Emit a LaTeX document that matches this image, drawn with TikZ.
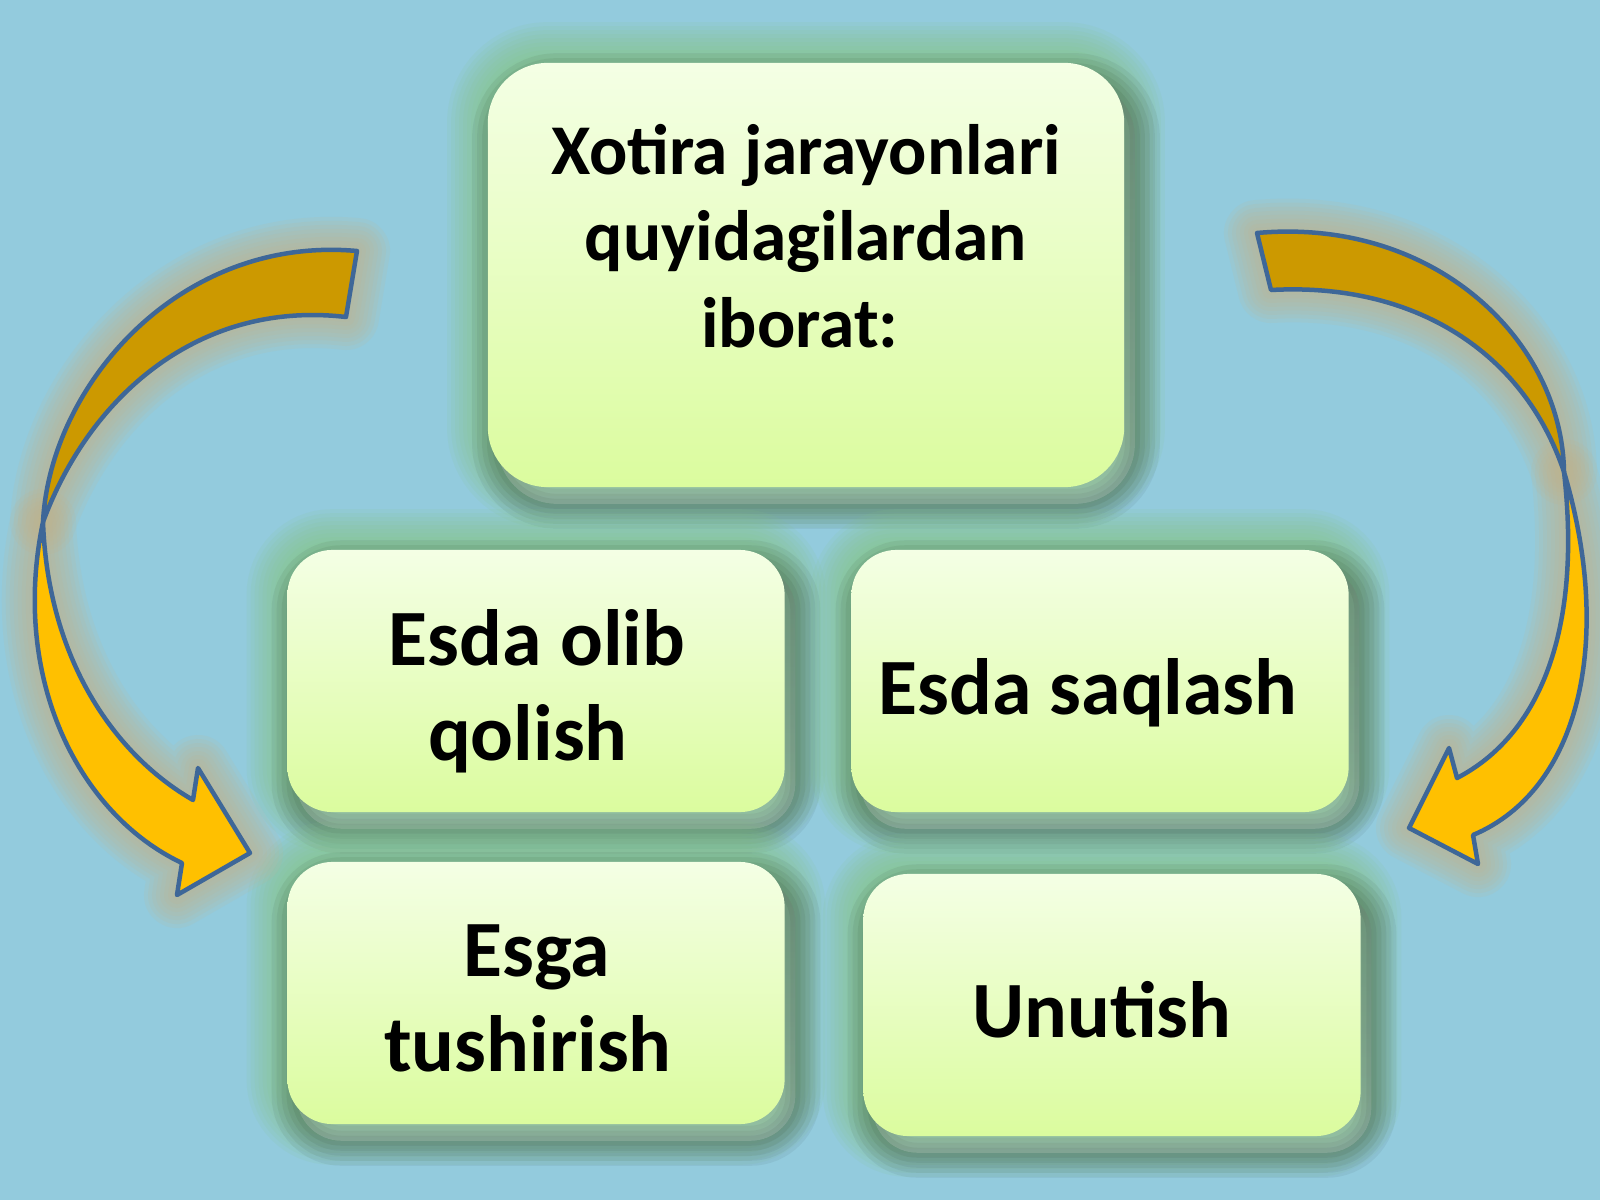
\documentclass[tikz,border=0pt]{standalone}
\usepackage{fontspec}
\setmainfont{Carlito}
\usepackage{xcolor}
\usepackage{tikz}

\pgfdeclarelayer{back}
\pgfdeclarelayer{glow}
\pgfsetlayers{back,glow,main}

\definecolor{sky}{RGB}{147,203,221}
\definecolor{cardtop}{RGB}{244,255,229}
\definecolor{cardbot}{RGB}{219,252,158}
\definecolor{halo}{RGB}{134,198,128}
\definecolor{shade}{RGB}{80,125,95}
\definecolor{goldback}{RGB}{204,153,0}
\definecolor{goldfront}{RGB}{255,192,0}
\definecolor{rim}{RGB}{62,103,152}
\definecolor{amber}{RGB}{196,180,140}

\tikzset{
  card/.style={rounded corners=0.45cm, top color=cardtop, bottom color=cardbot,
    minimum width=4.97cm, minimum height=2.62cm, inner sep=0pt},
  bigcard/.style={card, rounded corners=0.6cm, minimum width=6.36cm, minimum height=4.24cm},
  cardtext/.style={align=center, inner sep=0pt, anchor=base,
    font=\fontsize{22.7}{27}\selectfont\bfseries},
  bigtext/.style={cardtext, font=\fontsize{20.3}{24.5}\selectfont\bfseries},
  band/.style={draw=rim, line width=0.045cm, line join=round},
}

% arrow outlines (pixel units)
\newcommand\leftback{(357,251) .. controls (180,235) and (50,385) .. (43,522)
  .. controls (90,395) and (200,300) .. (346,317) -- cycle}
\newcommand\leftfront{(43,522) .. controls (48,660) and (115,755) .. (193,800)
  -- (198,768) -- (250,853) -- (177,895) -- (182,863)
  .. controls (80,815) and (10,680) .. (43,522) -- cycle}
\newcommand\rightback{(1257,233) .. controls (1434,217) and (1562,340) .. (1564,472)
  .. controls (1524,352) and (1414,282) .. (1271,290) -- cycle}
\newcommand\rightfront{(1564,472) .. controls (1582,630) and (1540,735) .. (1457,778)
  -- (1449,748) -- (1409,828) -- (1478,864) -- (1473,835)
  .. controls (1580,790) and (1614,640) .. (1564,472) -- cycle}

\begin{document}
\begin{tikzpicture}[x=0.01cm, y=-0.01cm]
\useasboundingbox (0,0) rectangle (1600,1200);
\begin{pgfonlayer}{back}
  \fill[sky] (0,0) rectangle (1600,1200);
\end{pgfonlayer}

% BOXES
  \node[bigcard] (xotira) at (806,275) {};
  \node[card] (olib) at (536,681) {};
  \node[card] (saqlash) at (1100,681) {};
  \node[card] (tushirish) at (536,993) {};
  \node[card] (unutish) at (1112,1005) {};

% TEXT (anchored at the last baseline)
  \node[bigtext] (xotiratext) at (806,347) {Xotira jarayonlari\\quyidagilardan\\iborat:\hspace*{3.5pt}};
  \node[cardtext] (olibtext) at (537,760) {Esda olib\\qolish\hspace*{5.2pt}};
  \node[cardtext] (saqlashtext) at (1088,714) {Esda saqlash};
  \node[cardtext] (tushirishtext) at (537,1071) {Esga\\tushirish\hspace*{5.2pt}};
  \node[cardtext] (unutishtext) at (1102,1037) {Unutish};

% GLOW and SHADOW
\begin{pgfonlayer}{glow}
  \foreach \n/\r in {xotira/0.6cm, olib/0.45cm, saqlash/0.45cm, tushirish/0.45cm, unutish/0.45cm}{
    \foreach \w in {80,72,64,56,48,40,32,24,16,8}
      \draw[halo, opacity=.1, line width=\w*0.2845pt, rounded corners=\r]
        (\n.south west) rectangle (\n.north east);
    \foreach \w in {50,40,30,20,10}
      \draw[shade, opacity=.05, line width=\w*0.2845pt, rounded corners=\r]
        ([shift={(10,16)}]\n.south west) rectangle ([shift={(10,16)}]\n.north east);
  }
  \foreach \w in {66,58,50,42,34,26,18,10}{
    \draw[amber, opacity=.13, line width=\w*0.2845pt, line join=round] \leftback;
    \draw[amber, opacity=.13, line width=\w*0.2845pt, line join=round] \leftfront;
    \draw[amber, opacity=.13, line width=\w*0.2845pt, line join=round] \rightback;
    \draw[amber, opacity=.13, line width=\w*0.2845pt, line join=round] \rightfront;
  }
\end{pgfonlayer}

% ARROWS
  \draw[band, fill=goldback] \leftback;
  \draw[band, fill=goldfront] \leftfront;
  \draw[band, fill=goldback] \rightback;
  \draw[band, fill=goldfront] \rightfront;

\end{tikzpicture}
\end{document}
